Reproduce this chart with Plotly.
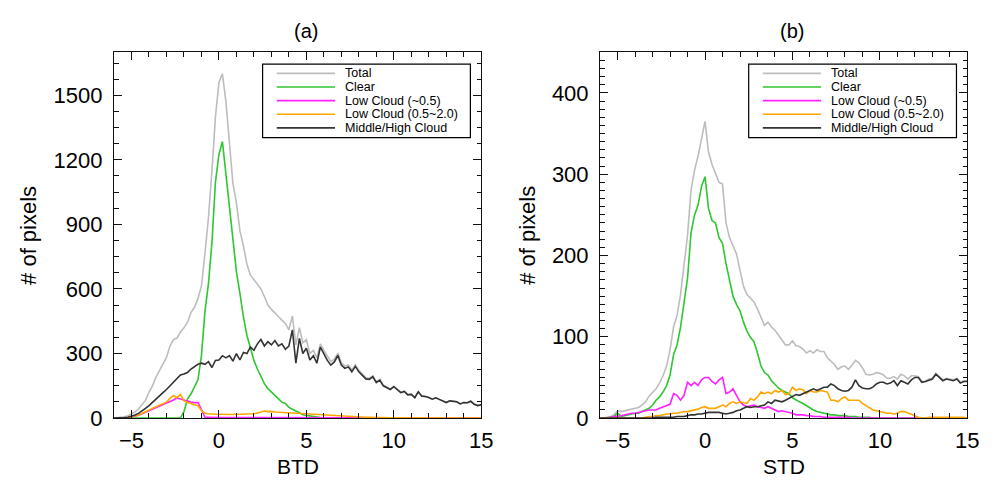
import plotly.graph_objects as go

W, H = 999, 480
FONT = "Liberation Sans, Arial, Helvetica, sans-serif"

# ---------------- data ----------------
# histogram bin centres, -6.0 ... 15.0 every 0.2
x_bins = [round(-6.0 + 0.2 * i, 1) for i in range(106)]

series_names = ["Total", "Clear", "Low Cloud (~0.5)", "Low Cloud (0.5~2.0)", "Middle/High Cloud"]
series_colors = ["#bdbdbd", "#2fc62f", "#ff22ff", "#ffa500", "#333333"]

x_ticks = [-5, 0, 5, 10, 15]
x_ticktext = ["\u22125", "0", "5", "10", "15"]
btd_y_ticks = [0, 300, 600, 900, 1200, 1500]
std_y_ticks = [0, 100, 200, 300, 400]

# ---- panel (a): BTD ----
btd_total = [
    0, 1, 3, 6, 11, 18, 28, 42, 60, 82,
    120, 150, 190, 222, 252, 282, 335, 365, 372, 400,
    420, 445, 490, 515, 555, 615, 765, 930, 1150, 1400,
    1560, 1600, 1470, 1260, 1090, 1000, 870, 800, 715, 665,
    645, 625, 600, 565, 525, 505, 490, 472, 455, 440,
    410, 475, 340, 420, 350, 365, 300, 315, 280, 345,
    315, 285, 262, 274, 302, 257, 242, 247, 224, 248,
    222, 206, 187, 185, 196, 169, 179, 153, 142, 135,
    148, 134, 120, 125, 109, 111, 96, 123, 103, 101,
    96, 88, 94, 87, 80, 72, 80, 79, 76, 66,
    72, 71, 78, 64, 58, 62,
]
btd_clear = [
    0, 0, 0, 0, 0, 0, 0, 0, 0, 0,
    0, 0, 0, 0, 0, 0, 0, 0, 0, 0,
    30, 88, 112, 145, 178, 290, 495, 625, 815, 1097,
    1225, 1285, 1127, 970, 810, 680, 580, 470, 385, 320,
    268, 228, 192, 160, 137, 122, 104, 88, 74, 68,
    50, 41, 34, 25, 15, 12, 9, 6, 4, 2,
    1, 1, 0, 0, 0, 0, 0, 0, 0, 0,
    0, 0, 0, 0, 0, 0, 0, 0, 0, 0,
    0, 0, 0, 0, 0, 0, 0, 0, 0, 0,
    0, 0, 0, 0, 0, 0, 0, 0, 0, 0,
    0, 0, 0, 0, 0, 0,
]
btd_low1 = [
    0, 0, 1, 2, 3, 5, 8, 13, 20, 27,
    34, 42, 50, 57, 63, 68, 76, 84, 93, 88,
    85, 78, 75, 72, 72, 40, 4, 4, 3, 3,
    3, 3, 3, 3, 3, 3, 3, 3, 3, 3,
    3, 3, 3, 3, 3, 3, 2, 2, 2, 2,
    2, 2, 2, 2, 2, 2, 1, 1, 1, 1,
    1, 1, 1, 1, 1, 1, 1, 1, 0, 0,
    0, 0, 0, 0, 0, 0, 0, 0, 0, 0,
    0, 0, 0, 0, 0, 0, 0, 0, 0, 0,
    0, 0, 0, 0, 0, 0, 0, 0, 0, 0,
    0, 0, 0, 0, 0, 0,
]
btd_low2 = [
    0, 0, 1, 2, 3, 6, 9, 14, 21, 28,
    36, 45, 53, 60, 67, 74, 92, 105, 95, 110,
    80, 72, 68, 63, 57, 35, 22, 20, 18, 18,
    18, 17, 18, 16, 17, 18, 17, 18, 19, 18,
    20, 24, 28, 33, 30, 31, 28, 27, 26, 24,
    24, 23, 22, 22, 20, 20, 19, 18, 17, 16,
    15, 14, 13, 12, 12, 11, 10, 9, 8, 7,
    6, 5, 4, 4, 3, 3, 2, 2, 1, 1,
    1, 1, 1, 1, 0, 0, 0, 0, 0, 0,
    0, 0, 0, 0, 0, 0, 0, 0, 0, 0,
    0, 0, 0, 0, 0, 0,
]
btd_midhigh = [
    0, 0, 1, 2, 4, 8, 14, 22, 32, 45,
    58, 72, 88, 104, 118, 133, 150, 168, 185, 200,
    205, 212, 228, 240, 250, 255, 250, 262, 235, 268,
    270, 290, 280, 290, 265, 300, 270, 305, 300, 330,
    315, 345, 365, 335, 355, 340, 360, 335, 345, 320,
    335, 410, 255, 370, 300, 325, 270, 290, 255, 330,
    300, 268, 246, 261, 291, 246, 231, 238, 215, 240,
    215, 200, 182, 180, 192, 165, 176, 150, 140, 133,
    146, 132, 118, 124, 108, 110, 95, 122, 102, 100,
    96, 88, 94, 87, 80, 72, 80, 79, 76, 66,
    72, 71, 78, 64, 58, 62,
]

# ---- panel (b): STD ----
std_total = [
    0, 0, 1, 2, 4, 9, 8, 9, 10, 11,
    12, 13, 16, 20, 27, 32, 36, 43, 52, 64,
    84, 112, 126, 152, 185, 225, 280, 305, 322, 345,
    365, 327, 312, 301, 290, 288, 240, 222, 212, 202,
    182, 162, 152, 148, 143, 134, 124, 114, 118, 112,
    108, 102, 96, 90, 90, 95, 89, 88, 85, 80,
    83, 80, 84, 82, 82, 74, 70, 66, 60, 63,
    64, 60, 65, 71, 68, 62, 54, 53, 54, 56,
    55, 53, 49, 49, 51, 48, 54, 52, 48, 52,
    52, 51, 45, 45, 48, 49, 55, 51, 47, 49,
    48, 47, 49, 44, 46, 46,
]
std_clear = [
    0, 0, 0, 1, 2, 6, 2, 3, 4, 5,
    6, 6, 8, 10, 12, 16, 22, 26, 32, 40,
    53, 78, 90, 112, 140, 172, 228, 250, 262, 285,
    297, 258, 243, 240, 222, 215, 190, 168, 150, 140,
    132, 118, 107, 99, 94, 80, 64, 56, 53, 46,
    41, 37, 34, 32, 30, 25, 22, 20, 18, 15,
    12, 10, 8, 7, 6, 5, 4, 4, 3, 3,
    3, 2, 2, 2, 1, 1, 1, 1, 0, 0,
    0, 0, 0, 0, 0, 0, 0, 0, 0, 0,
    0, 0, 0, 0, 0, 0, 0, 0, 0, 0,
    0, 0, 0, 0, 0, 0,
]
std_low1 = [
    0, 0, 0, 1, 2, 2, 3, 4, 5, 6,
    6, 7, 8, 9, 10, 10, 10, 12, 14, 15,
    17, 30, 28, 22, 28, 44, 40, 44, 40, 47,
    50, 50, 45, 42, 47, 50, 30, 32, 36, 28,
    20, 16, 14, 15, 16, 14, 13, 12, 14, 12,
    10, 8, 9, 8, 7, 6, 4, 4, 4, 3,
    3, 2, 2, 2, 1, 1, 1, 1, 1, 1,
    1, 1, 0, 0, 0, 0, 0, 0, 0, 0,
    0, 0, 0, 0, 0, 0, 0, 0, 0, 0,
    0, 0, 0, 0, 0, 0, 0, 0, 0, 0,
    0, 0, 0, 0, 0, 0,
]
std_low2 = [
    0, 0, 0, 0, 0, 0, 0, 0, 0, 0,
    0, 0, 0, 1, 2, 2, 3, 3, 4, 5,
    5, 6, 6, 7, 8, 8, 9, 10, 11, 13,
    14, 12, 12, 12, 14, 16, 14, 18, 20, 18,
    20, 19, 18, 24, 22, 26, 32, 30, 32, 30,
    34, 32, 34, 29, 30, 38, 34, 36, 35, 30,
    34, 32, 32, 34, 33, 32, 22, 22, 20, 24,
    26, 22, 22, 22, 22, 18, 15, 12, 10, 9,
    8, 7, 6, 6, 5, 6, 8, 8, 6, 5,
    2, 1, 0, 0, 1, 1, 1, 1, 1, 1,
    1, 1, 1, 1, 1, 0,
]
std_midhigh = [
    0, 0, 0, 0, 0, 0, 0, 0, 0, 0,
    0, 0, 0, 0, 0, 0, 1, 1, 1, 1,
    1, 1, 2, 2, 2, 3, 4, 4, 5, 5,
    6, 7, 7, 7, 7, 6, 5, 6, 7, 9,
    10, 12, 14, 13, 14, 14, 15, 16, 20, 18,
    22, 21, 20, 22, 24, 27, 29, 28, 30, 32,
    34, 36, 34, 36, 38, 38, 42, 40, 36, 34,
    33, 34, 38, 47, 40, 37, 36, 36, 38, 42,
    44, 44, 42, 43, 46, 40, 46, 44, 42, 47,
    50, 50, 44, 45, 47, 48, 54, 50, 46, 48,
    47, 46, 48, 43, 45, 45,
]

btd_series = [btd_total, btd_clear, btd_low1, btd_low2, btd_midhigh]
std_series = [std_total, std_clear, std_low1, std_low2, std_midhigh]

# ---------------- figure ----------------
fig = go.Figure()
for xa, ya, group in (("x", "y", btd_series), ("x2", "y2", std_series)):
    for name, color, vals in zip(series_names, series_colors, group):
        fig.add_trace(go.Scatter(
            x=x_bins, y=vals, mode="lines", name=name,
            line=dict(color=color, width=1.6),
            xaxis=xa, yaxis=ya, showlegend=False, hoverinfo="skip",
        ))

AXC = "#111111"
tickfont = dict(family=FONT, size=22, color="black")
common = dict(showline=True, linecolor=AXC, linewidth=1.2, mirror="ticks",
              ticks="inside", ticklen=8, tickwidth=1, tickcolor=AXC,
              showgrid=False, zeroline=False, tickfont=tickfont)

def px_x(p):
    return p / W

def px_y(p):
    return 1 - p / H

PLOT_L = [107.3, 599.3]
PLOT_R = [479.0, 971.0]
PLOT_T, PLOT_B = 45.5, 421.5
ydom = [px_y(PLOT_B), px_y(PLOT_T)]

xminor = dict(tickmode="linear", tick0=-6, dtick=1, ticks="inside",
              ticklen=4.5, tickwidth=1, tickcolor=AXC)

fig.update_layout(
    width=W, height=H,
    margin=dict(l=0, r=0, t=0, b=0),
    paper_bgcolor="white", plot_bgcolor="white",
    showlegend=False,
    xaxis=dict(common, domain=[px_x(PLOT_L[0]), px_x(PLOT_R[0])], range=[-6, 15],
               tickmode="array", tickvals=x_ticks, ticktext=x_ticktext,
               minor=xminor, anchor="y", ticklabelstandoff=2),
    yaxis=dict(common, domain=ydom, range=[0, 1700],
               tickmode="array", tickvals=btd_y_ticks,
               minor=dict(tickmode="linear", tick0=0, dtick=75, ticks="inside",
                          ticklen=4.5, tickwidth=1, tickcolor=AXC),
               anchor="x", ticklabelstandoff=6),
    xaxis2=dict(common, domain=[px_x(PLOT_L[1]), px_x(PLOT_R[1])], range=[-6, 15],
                tickmode="array", tickvals=x_ticks, ticktext=x_ticktext,
                minor=xminor, anchor="y2", ticklabelstandoff=2),
    yaxis2=dict(common, domain=ydom, range=[0, 450],
                tickmode="array", tickvals=std_y_ticks,
                minor=dict(tickmode="linear", tick0=0, dtick=10, ticks="inside",
                           ticklen=4.5, tickwidth=1, tickcolor=AXC),
                anchor="x2", ticklabelstandoff=6),
)

annotations = []
shapes = []
panel_titles = ["(a)", "(b)"]
x_titles = ["BTD", "STD"]
ytitle_x = [20, 525]
for i in range(2):
    cx = (PLOT_L[i] + PLOT_R[i]) / 2
    annotations.append(dict(text=panel_titles[i], x=px_x(cx + 8), y=px_y(24),
                            xref="paper", yref="paper", showarrow=False,
                            xanchor="center", yanchor="middle",
                            font=dict(family=FONT, size=20, color="black")))
    annotations.append(dict(text=x_titles[i], x=px_x(cx), y=px_y(471),
                            xref="paper", yref="paper", showarrow=False,
                            xanchor="center", yanchor="middle",
                            font=dict(family=FONT, size=21, color="black")))
    annotations.append(dict(text="# of pixels", x=px_x(ytitle_x[i]),
                            y=px_y((PLOT_T + PLOT_B) / 2),
                            xref="paper", yref="paper", showarrow=False,
                            textangle=-90, xanchor="center", yanchor="middle",
                            font=dict(family=FONT, size=22, color="black")))

    # legend box drawn in the upper right of each panel
    bx0 = PLOT_L[i] + 150.4
    bx1 = bx0 + 210.3
    by0, by1 = 57.7, 133.3
    shapes.append(dict(type="rect", xref="paper", yref="paper",
                       x0=px_x(bx0), x1=px_x(bx1), y0=px_y(by1), y1=px_y(by0),
                       line=dict(color="black", width=1.2), fillcolor="white",
                       layer="above"))
    for k, (name, color) in enumerate(zip(series_names, series_colors)):
        yy = 67.2 + 14.0 * k
        shapes.append(dict(type="line", xref="paper", yref="paper",
                           x0=px_x(bx0 + 14.3), x1=px_x(bx0 + 73.3),
                           y0=px_y(yy), y1=px_y(yy),
                           line=dict(color=color, width=1.6), layer="above"))
        annotations.append(dict(text=name, x=px_x(bx0 + 81.6), y=px_y(yy),
                                xref="paper", yref="paper", showarrow=False,
                                xanchor="left", yanchor="middle",
                                font=dict(family=FONT, size=12.5, color="black")))

fig.update_layout(annotations=annotations, shapes=shapes)
fig.write_html("out.html")
